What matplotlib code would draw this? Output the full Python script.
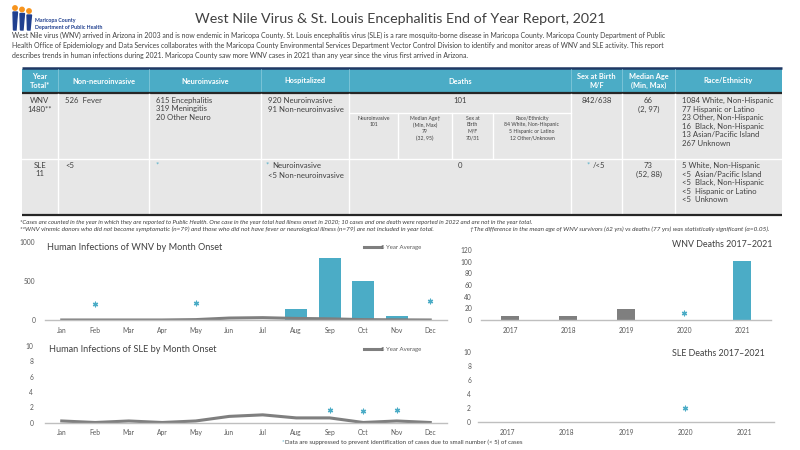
import matplotlib
matplotlib.use('Agg')
import matplotlib.pyplot as plt
from matplotlib.patches import Rectangle, Circle, Polygon

plt.rcParams['font.family'] = ['Lato', 'DejaVu Sans']

# ---- chart data ----
months = ['Jan', 'Feb', 'Mar', 'Apr', 'May', 'Jun', 'Jul', 'Aug', 'Sep', 'Oct', 'Nov', 'Dec']
wnv_2021 = [0, 0, 0, 0, 0, 0, 0, 145, 795, 495, 45, 0]
wnv_avg = [0, 0, 0, 0, 5, 25, 30, 20, 15, 5, 2, 0]
wnv_supp_months = ['Feb', 'May', 'Dec']      # suppressed counts (<5), shown as *
wnv_supp_y = [200, 220, 240]
sle_avg = [0.2, 0, 0.2, 0, 0.2, 0.8, 1.0, 0.6, 0.6, 0, 0.2, 0]
sle_supp_months = ['Sep', 'Oct', 'Nov']
sle_supp_y = [1.6, 1.5, 1.6]

years = ['2017', '2018', '2019', '2020', '2021']
wnv_deaths = [7, 7, 19, 0, 101]
wnv_deaths_supp = ['2020']
wnv_deaths_supp_y = [12]
sle_deaths = [0, 0, 0, 0, 0]
sle_deaths_supp = ['2020']
sle_deaths_supp_y = [2]

# ---- table text ----
headers = ['Year\nTotal*', 'Non-neuroinvasive', 'Neuroinvasive', 'Hospitalized', 'Deaths',
           'Sex at Birth\nM/F', 'Median Age\n(Min, Max)', 'Race/Ethnicity']
wnv_row = ['WNV\n1480**', '526  Fever', '615 Encephalitis\n319 Meningitis\n20 Other Neuro',
           '920 Neuroinvasive\n91 Non-neuroinvasive', '101', '842/638', '66\n(2, 97)',
           '1084 White, Non-Hispanic\n77 Hispanic or Latino\n23 Other, Non-Hispanic\n'
           '16  Black, Non-Hispanic\n13 Asian/Pacific Island\n267 Unknown']
wnv_death_sub = ['Neuroinvasive\n101', 'Median Age\u2020\n(Min, Max)\n79\n(32, 95)',
                 'Sex at\nBirth\nM/F\n70/31',
                 'Race/Ethnicity\n84 White, Non-Hispanic\n5 Hispanic or Latino\n12 Other/Unknown']
sle_row = ['SLE\n11', '<5', '', '', '0', '', '73\n(52, 88)',
           '5 White, Non-Hispanic\n<5  Asian/Pacific Island\n<5  Black, Non-Hispanic\n'
           '<5  Hispanic or Latino\n<5  Unknown']

intro = ("West Nile virus (WNV) arrived in Arizona in 2003 and is now endemic in Maricopa County. "
         "St. Louis encephalitis virus (SLE) is a rare mosquito-borne disease in Maricopa County. "
         "Maricopa County Department of Public\n"
         "Health Office of Epidemiology and Data Services collaborates with the Maricopa County "
         "Environmental Services Department Vector Control Division to identify and monitor areas "
         "of WNV and SLE activity. This report\n"
         "describes trends in human infections during 2021. Maricopa County saw more WNV cases in "
         "2021 than any year since the virus first arrived in Arizona.")
foot1 = ("*Cases are counted in the year in which they are reported to Public Health. One case in the "
         "year total had illness onset in 2020; 10 cases and one death were reported in 2022 and are "
         "not in the year total.")
foot2 = ("**WNV viremic donors who did not become symptomatic (n=79) and those who did not have fever "
         "or neurological illness (n=79) are not included in year total.")
foot3 = ("\u2020The difference in the mean age of WNV survivors (62 yrs) vs deaths (77 yrs) was "
         "statistically significant (\u03b1=0.05).")

TEAL = '#4BACC6'
GRAY = '#7F7F7F'
TXT = '#404040'
CELL = '#E7E7E7'

fig = plt.figure(figsize=(8, 4.5), dpi=100)


def px(x0, y0, x1, y1):
    return [x0 / 800, 1 - y1 / 450, (x1 - x0) / 800, (y1 - y0) / 450]


def style_axes(ax, ymax, step, ypad):
    ax.set_facecolor('none')
    for s in ['top', 'right', 'left']:
        ax.spines[s].set_visible(False)
    ax.spines['bottom'].set_color('#BFBFBF')
    ax.spines['bottom'].set_linewidth(1.0)
    ax.set_ylim(0, ymax)
    ax.set_yticks(list(range(0, ymax + 1, step)))
    ax.tick_params(length=0, labelsize=4.8, labelcolor='#595959')
    ax.tick_params(axis='x', pad=5)
    ax.tick_params(axis='y', pad=ypad)


xm = list(range(len(months)))
xy = list(range(len(years)))

# background layer in pixel coordinates for header, table and notes
bg = fig.add_axes([0, 0, 1, 1], zorder=-1)
bg.set_xlim(0, 800)
bg.set_ylim(450, 0)
bg.axis('off')

# logo
for i, x0 in enumerate([13, 20, 27]):
    bg.add_patch(Circle((x0 + 2, 8 + i * 1.5), 2.2, color='#F7941D'))
    bg.add_patch(Polygon([[x0, 12 + i * 1.5], [x0 + 4.5, 12 + i * 1.5], [x0 + 3, 30], [x0 + 0.5, 30]],
                         color='#1F3F8F'))
bg.text(35, 20.5, 'Maricopa County', fontsize=3.8, color='#1F3F8F', fontweight='bold', va='center')
bg.text(35, 27.5, 'Department of Public Health', fontsize=3.8, color='#1F3F8F', fontweight='bold',
        va='center')

bg.text(400, 19, 'West Nile Virus & St. Louis Encephalitis End of Year Report, 2021',
        fontsize=10.3, color='#404040', ha='center', va='center')
bg.text(12, 32, intro, fontsize=4.95, color=TXT, va='top', linespacing=1.5)
bg.plot([22, 782], [67.5, 67.5], color='#1F3864', lw=1.8, solid_capstyle='butt')

# table
col_x = [22, 58, 149, 261, 349, 571, 622, 675, 782]
sub_x = [349, 398, 452, 493, 571]
bg.add_patch(Rectangle((22, 68.5), 760, 24, color=TEAL, lw=0))
for x in col_x[1:-1]:
    bg.plot([x, x], [69, 92], color='#8DCCDD', lw=0.5)
for i, h in enumerate(headers):
    bg.text((col_x[i] + col_x[i + 1]) / 2, 81, h, fontsize=5.3, color='white', ha='center',
            va='center', fontweight='bold', linespacing=1.3)
bg.add_patch(Rectangle((22, 93.5), 760, 121, color=CELL, lw=0))
bg.plot([22, 782], [92.8, 92.8], color='#262626', lw=1.6, solid_capstyle='butt')
for x in col_x[1:-1]:
    bg.plot([x, x], [94, 214], color='white', lw=1)
bg.plot([22, 782], [158.5, 158.5], color='white', lw=1)
bg.plot([349, 571], [113, 113], color='white', lw=1)
for x in sub_x[1:-1]:
    bg.plot([x, x], [113, 158], color='white', lw=1)
bg.plot([22, 782], [215, 215], color='#262626', lw=1.6, solid_capstyle='butt')

left_cols = [1, 2, 3, 7]
for row, ytop in [(wnv_row, 97), (sle_row, 162)]:
    for i, s in enumerate(row):
        if not s:
            continue
        if i in left_cols:
            x, ha = col_x[i] + 7, 'left'
        else:
            x, ha = (col_x[i] + col_x[i + 1]) / 2, 'center'
        bg.text(x, ytop, s, fontsize=5.6, color=TXT, ha=ha, va='top', linespacing=1.25)
for i, s in enumerate(wnv_death_sub):
    bg.text((sub_x[i] + sub_x[i + 1]) / 2, 116, s, fontsize=3.7, color=TXT, ha='center', va='top',
            linespacing=1.35)
# suppressed markers in SLE row
bg.text(156, 162, '*', fontsize=5.6, color=TEAL, va='top')
bg.text(266, 162, '*', fontsize=5.6, color=TEAL, va='top')
bg.text(272, 162, 'Neuroinvasive', fontsize=5.6, color=TXT, va='top')
bg.text(268, 171.5, '<5 Non-neuroinvasive', fontsize=5.6, color=TXT, va='top')
bg.text(587, 162, '*', fontsize=5.6, color=TEAL, va='top')
bg.text(593, 162, '/<5', fontsize=5.6, color=TXT, va='top')

bg.text(20, 222, foot1, fontsize=4.45, color=TXT, style='italic', va='center')
bg.text(20, 229, foot2, fontsize=4.6, color=TXT, style='italic', va='center')
bg.text(470, 229, foot3, fontsize=4.6, color=TXT, style='italic', va='center')

# WNV by month
ax1 = fig.add_axes(px(45, 242, 447, 320))
ax1.bar(xm, wnv_2021, width=0.67, color=TEAL)
ax1.plot(xm, wnv_avg, color=GRAY, lw=2.2, label='5 Year Average')
ax1.scatter([months.index(m) for m in wnv_supp_months], wnv_supp_y, marker=(6, 2, 0), s=11,
            color=TEAL, lw=0.9)
ax1.set_xticks(xm)
ax1.set_xticklabels(months)
ax1.set_xlim(-0.5, 11.5)
style_axes(ax1, 1000, 500, 7)
ax1.text(0.005, 0.93, 'Human Infections of WNV by Month Onset', transform=ax1.transAxes,
         fontsize=6.6, color=TXT, va='center')
ax1.legend(loc='center left', bbox_to_anchor=(0.78, 0.93), frameon=False, fontsize=4.3,
           handlelength=2.8, handletextpad=0.1, labelcolor='#595959')

# WNV deaths
ax2 = fig.add_axes(px(481, 250, 771, 320))
ax2.bar(xy, wnv_deaths, width=0.32, color=[GRAY, GRAY, GRAY, GRAY, TEAL])
ax2.scatter([years.index(y) for y in wnv_deaths_supp], wnv_deaths_supp_y, marker=(6, 2, 0), s=11,
            color=TEAL, lw=0.9)
ax2.set_xticks(xy)
ax2.set_xticklabels(years)
ax2.set_xlim(-0.5, 4.5)
style_axes(ax2, 120, 20, 6.5)
fig.text(773 / 800, 1 - 245 / 450, 'WNV Deaths 2017\u20132021', fontsize=6.4, color=TXT,
         ha='right', va='center')

# SLE by month
ax3 = fig.add_axes(px(45, 346, 447, 422.5))
ax3.plot(xm, sle_avg, color=GRAY, lw=2.2, label='5 Year Average')
ax3.scatter([months.index(m) for m in sle_supp_months], sle_supp_y, marker=(6, 2, 0), s=11,
            color=TEAL, lw=0.9)
ax3.set_xticks(xm)
ax3.set_xticklabels(months)
ax3.set_xlim(-0.5, 11.5)
style_axes(ax3, 10, 2, 8.5)
ax3.text(0.01, 0.96, 'Human Infections of SLE by Month Onset', transform=ax3.transAxes,
         fontsize=6.6, color=TXT, va='center')
ax3.legend(loc='center left', bbox_to_anchor=(0.78, 0.96), frameon=False, fontsize=4.3,
           handlelength=2.8, handletextpad=0.1, labelcolor='#595959')

# SLE deaths
ax4 = fig.add_axes(px(478, 352, 774, 422))
ax4.bar(xy, sle_deaths, width=0.32, color=GRAY)
ax4.scatter([years.index(y) for y in sle_deaths_supp], sle_deaths_supp_y, marker=(6, 2, 0), s=11,
            color=TEAL, lw=0.9)
ax4.set_xticks(xy)
ax4.set_xticklabels(years)
ax4.set_xlim(-0.5, 4.5)
style_axes(ax4, 10, 2, 5)
fig.text(765 / 800, 1 - 353 / 450, 'SLE Deaths 2017\u20132021', fontsize=6.4, color=TXT,
         ha='right', va='center')

fig.text(282 / 800, 1 - 442 / 450, '*', fontsize=4.4, color=TEAL, va='center')
fig.text(285 / 800, 1 - 442 / 450,
         'Data are suppressed to prevent identification of cases due to small number (< 5) of cases',
         fontsize=4.4, color=TXT, va='center')

fig.savefig('out.png', dpi=100)
